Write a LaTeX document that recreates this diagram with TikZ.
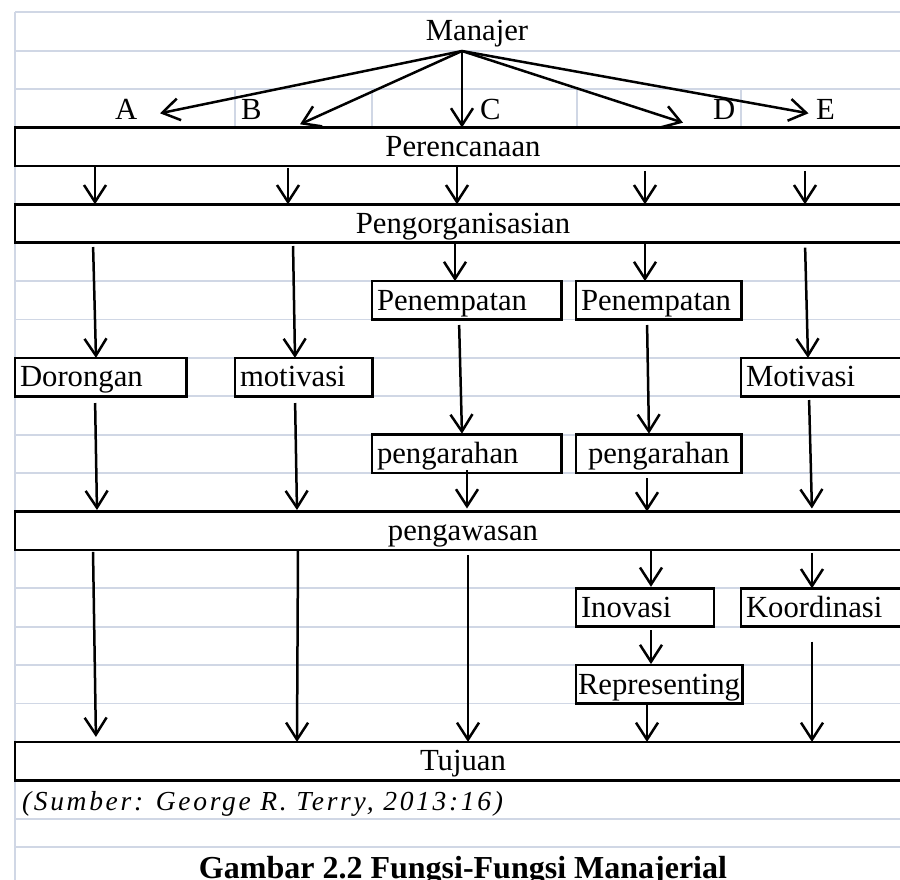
\documentclass[tikz,border=0pt]{standalone}
\usepackage{fontspec}
\setmainfont{Liberation Serif}
\newfontfamily\srcfont[LetterSpace=9.8]{Liberation Serif}
\usetikzlibrary{arrows.meta}
\definecolor{gridc}{RGB}{208,215,229}
\begin{document}
\begin{tikzpicture}[x=1pt,y=-1pt,
  font=\fontsize{30.7}{36}\selectfont,
  gridln/.style={gridc,line width=1.8pt},
  box/.style={draw,fill=white,line width=2.6pt,anchor=north west,inner xsep=5pt,inner ysep=0pt,outer sep=0pt,
    minimum height=38.4pt,text height=25.2pt,text depth=5.6pt},
  lbox/.style={box,text width=#1,align=left},
  lbl/.style={inner sep=0pt,outer sep=0pt,anchor=base west},
  arr/.style={line width=2.5pt,-{Straight Barb[length=17pt,width=22pt]}}]
\useasboundingbox (0,0) rectangle (900,879);
\clip (0,0) rectangle (900,879);
% grid
\foreach \k in {0,...,21} \draw[gridln] (15,12.3+38.4*\k) -- (905,12.3+38.4*\k);
\draw[gridln] (15,846.7) -- (905,846.7);
\draw[gridln] (15,12.3) -- (15,885);
\foreach \xx in {235,372,577,741} \draw[gridln] (\xx,88.9) -- (\xx,127.5);
% top labels
\node[inner sep=0pt,anchor=base] (man) at (477,40) {Manajer};
\node[lbl] (lA) at (115,119.5) {A};
\node[lbl] (lB) at (241,119.5) {B};
\node[lbl] (lC) at (480,119.5) {C};
\node[lbl] (lD) at (713,119.5) {D};
\node[lbl] (lE) at (816,119.5) {E};
% boxes
\node[box,minimum width=896pt] (per) at (15,127.5) {Perencanaan};
\node[box,minimum width=896pt] (org) at (15,204.3) {Pengorganisasian};
\node[lbox=179.7pt] (pen1) at (372,281.1) {Penempatan};
\node[lbox=155.7pt] (pen2) at (576,281.1) {Penempatan};
\node[lbox=161.7pt] (dor) at (15,357.9) {Dorongan};
\node[lbox=127.3pt] (mot1) at (235,357.9) {motivasi};
\node[lbox=160pt] (mot2) at (741,357.9) {Motivasi};
\node[lbox=179.7pt] (arah1) at (372,434.7) {pengarahan};
\node[lbox=155.7pt] (arah2) at (576,434.7) {\hspace*{7pt}pengarahan};
\node[box,minimum width=896pt] (awas) at (15,511.5) {pengawasan};
\node[lbox=128pt] (ino) at (576,588.3) {Inovasi};
\node[lbox=160pt] (koor) at (741,588.3) {Koordinasi};
\node[lbox=162.3pt,inner xsep=2pt] (rep) at (576,665.1) {Representing};
\node[box,minimum width=896pt] (tuj) at (15,741.9) {Tujuan};
% source and caption
\node[lbl] (src) at (22,810) {\srcfont\itshape\fontsize{27.5}{30}\selectfont (Sumber: George R. Terry, 2013:16)};
\node[inner sep=0pt,anchor=base] (cap) at (463,878.5) {\bfseries\fontsize{32}{36}\selectfont Gambar 2.2 Fungsi-Fungsi Manajerial};
% arrows from Manajer
\coordinate (apex) at (462,51);
\coordinate (tA) at (160,113.3);
\coordinate (tB) at (300,124.3);
\coordinate (tD) at (683,122.7);
\coordinate (tE) at (808.5,113.3);
\draw[arr] (apex) -- (tA);
\draw[arr] (apex) -- (tB);
\draw[arr] (apex) -- (per.north -| apex);
\draw[arr] (apex) -- (tD);
\draw[arr] (apex) -- (tE);
% Perencanaan -> Pengorganisasian
\draw[arr,shorten <=1pt] (per.south -| 95,0) -- (org.north -| 95,0);
\draw[arr,shorten <=2pt] (per.south -| 288,0) -- (org.north -| 288,0);
\draw[arr,shorten <=1pt] (per.south -| 457,0) -- (org.north -| 457,0);
\draw[arr,shorten <=5pt] (per.south -| 645,0) -- (org.north -| 645,0);
\draw[arr,shorten <=5pt] (per.south -| 805,0) -- (org.north -| 805,0);
% Pengorganisasian -> next
\draw[arr,shorten <=4.3pt] (org.south -| 93,0) -- (dor.north -| 96,0);
\draw[arr,shorten <=3.3pt] (org.south -| 293,0) -- (mot1.north -| 295,0);
\draw[arr] (org.south -| 455,0) -- (pen1.north -| 455,0);
\draw[arr] (org.south -| 645,0) -- (pen2.north -| 645,0);
\draw[arr,shorten <=5pt] (org.south -| 805,0) -- (mot2.north -| 808,0);
% Penempatan -> pengarahan
\draw[arr,shorten <=5.5pt,shorten >=1pt] (pen1.south -| 459,0) -- (arah1.north -| 462,0);
\draw[arr,shorten <=5.5pt,shorten >=1pt] (pen2.south -| 647,0) -- (arah2.north -| 649,0);
% -> pengawasan
\draw[arr,shorten <=6.7pt,shorten >=1.5pt] (dor.south -| 95,0) -- (awas.north -| 97,0);
\draw[arr,shorten <=6.7pt,shorten >=1.5pt] (mot1.south -| 295,0) -- (awas.north -| 297,0);
\draw[arr,shorten <=-3pt,shorten >=3pt] (arah1.south -| 467,0) -- (awas.north -| 467,0);
\draw[arr,shorten <=5pt] (arah2.south -| 647,0) -- (awas.north -| 647,0);
\draw[arr,shorten <=3.7pt,shorten >=3pt] (mot2.south -| 809,0) -- (awas.north -| 812,0);
% pengawasan -> next
\draw[arr,shorten <=2pt,shorten >=5pt] (awas.south -| 93,0) -- (tuj.north -| 96,0);
\draw[arr] (awas.south -| 298,0) -- (tuj.north -| 297,0);
\draw[arr,shorten <=5pt] (awas.south -| 468,0) -- (tuj.north -| 468,0);
\draw[arr,shorten >=1.5pt] (awas.south -| 651,0) -- (ino.north -| 651,0);
\draw[arr,shorten <=3pt] (awas.south -| 812,0) -- (koor.north -| 812,0);
\draw[arr,shorten <=3.3pt,shorten >=1pt] (ino.south -| 651,0) -- (rep.north -| 651,0);
\draw[arr,shorten <=1.5pt] (rep.south -| 647,0) -- (tuj.north -| 647,0);
\draw[arr,shorten <=15pt] (koor.south -| 812,0) -- (tuj.north -| 812,0);
\end{tikzpicture}
\end{document}
